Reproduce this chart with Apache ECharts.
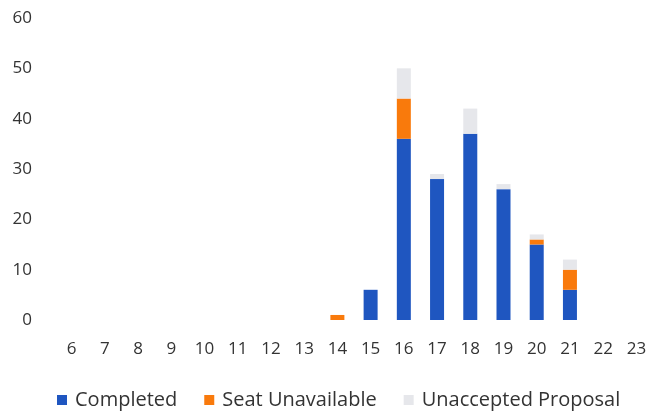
<!DOCTYPE html>
<html><head><meta charset="utf-8">
<script src="https://cdn.jsdelivr.net/npm/echarts@6/dist/echarts.min.js"></script>
<style>html,body{margin:0;padding:0;background:#fff}#c{width:654px;height:413px}</style>
</head><body><div id="c"></div>
<script>
const categories = ['6','7','8','9','10','11','12','13','14','15','16','17','18','19','20','21','22','23'];
const completed =        [0,0,0,0,0,0,0,0,0,6,36,28,37,26,15,6,0,0];
const seatUnavailable =  [0,0,0,0,0,0,0,0,1,0,8,0,0,0,1,4,0,0];
const unaccepted =       [0,0,0,0,0,0,0,0,0,0,6,1,5,1,1,2,0,0];
const yTicks = [0,10,20,30,40,50,60];

const font = 'Open Sans';
const txt = '#333333';
const chart = echarts.init(document.getElementById('c'));
chart.setOption({
  animation:false,
  color:['#1F56C0','#F97A0C','#E6E7EB'],
  grid:{left:55,right:1,top:18,bottom:93},
  legend:{
    top:385,left:52,itemWidth:10,itemHeight:10,itemGap:27,icon:'rect',
    textStyle:{fontFamily:font,fontSize:20,color:txt,padding:[0,0,0,3]},
    data:['Completed','Seat Unavailable','Unaccepted Proposal']
  },
  xAxis:{type:'category',data:categories,
    axisLine:{show:false},axisTick:{show:false},
    axisLabel:{fontFamily:font,fontSize:17,color:txt,margin:21}},
  yAxis:{type:'value',min:yTicks[0],max:yTicks[yTicks.length-1],interval:10,
    splitLine:{show:false},axisLine:{show:false},axisTick:{show:false},
    axisLabel:{fontFamily:font,fontSize:17,color:txt,margin:23}},
  series:[
    {name:'Completed',type:'bar',stack:'s',data:completed,barWidth:14},
    {name:'Seat Unavailable',type:'bar',stack:'s',data:seatUnavailable,barWidth:14},
    {name:'Unaccepted Proposal',type:'bar',stack:'s',data:unaccepted,barWidth:14}
  ]
});
</script></body></html>
